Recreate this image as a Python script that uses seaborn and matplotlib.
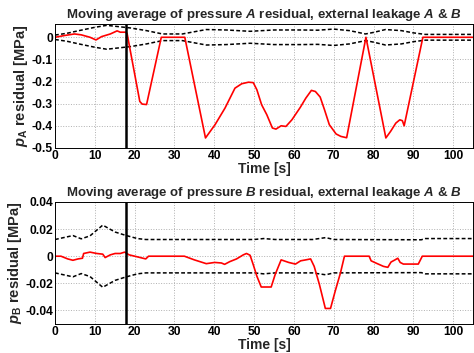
import numpy as np
import pandas as pd
import matplotlib
matplotlib.use("Agg")
import matplotlib.pyplot as plt
import seaborn as sns

# ---------------- data ----------------
# Pressure A residual (moving average)
tA = [0, 2.4, 4.9, 6.6, 8.8, 10.3, 11.7, 13.9, 15.6, 16.4, 17.7, 18.1, 21.3, 21.9, 23.0,
      26.7, 32.6, 37.8, 40.2, 42.7, 45.2, 46.9, 48.6, 49.8, 50.7, 51.9, 53.2, 54.6, 55.5,
      56.8, 58.0, 59.5, 61.6, 63.0, 64.4, 65.4, 66.6, 67.7, 68.9, 70.6, 71.8, 73.25,
      78.1, 83.1, 84.3, 85.6, 86.6, 87.25, 87.7, 92.4, 105]
rA = [0.0, 0.008, 0.015, 0.011, 0.0, -0.012, 0.003, 0.015, 0.029, 0.023, 0.023, 0.018,
      -0.29, -0.302, -0.304, 0.0, 0.0, -0.455, -0.395, -0.32, -0.23, -0.21, -0.203, -0.205,
      -0.237, -0.305, -0.35, -0.41, -0.415, -0.4, -0.403, -0.373, -0.317, -0.275, -0.24,
      -0.245, -0.27, -0.328, -0.395, -0.437, -0.448, -0.454, 0.0, -0.455, -0.425, -0.388,
      -0.373, -0.377, -0.4, 0.0, 0.0]
# Threshold A (upper / lower)
thA_t = [0, 3, 6, 10, 13, 16, 19, 23, 27, 32, 35, 38, 43, 49, 55, 62, 66, 70, 74, 78,
         80, 83, 87, 90, 93, 105]
thA_up = [0.010, 0.018, 0.030, 0.045, 0.054, 0.048, 0.042, 0.030, 0.015, 0.015, 0.025,
          0.035, 0.033, 0.027, 0.033, 0.033, 0.032, 0.037, 0.030, 0.015, 0.022, 0.035,
          0.030, 0.020, 0.013, 0.013]
thA_lo = [-0.010, -0.018, -0.030, -0.045, -0.054, -0.048, -0.042, -0.030, -0.015, -0.015,
          -0.025, -0.035, -0.033, -0.027, -0.033, -0.033, -0.032, -0.037, -0.030, -0.015,
          -0.022, -0.035, -0.030, -0.020, -0.013, -0.013]

# Pressure B residual (moving average)
tB = [0, 1.5, 3.2, 4.5, 5.8, 6.9, 7.2, 8.8, 10.5, 12.0, 12.6, 13.9, 15.1, 16.4, 17.5,
      18.6, 20.3, 22.8, 23.5, 32.5, 35.0, 38.0, 40.1, 41.8, 42.6, 43.9, 45.6, 47.3, 48.1,
      49.0, 49.8, 50.7, 51.8, 54.3, 55.3, 56.8, 58.7, 60.4, 61.7, 63.0, 64.2, 65.1, 66.4,
      67.9, 69.2, 70.4, 71.7, 72.7, 78.9, 79.4, 80.8, 82.5, 83.6, 83.9, 84.4, 85.4, 86.1,
      86.7, 87.5, 91.25, 92.25, 105]
rB = [0.0, 0.0, -0.002, -0.003, -0.002, -0.0015, 0.002, 0.003, 0.002, 0.0015, -0.001,
      0.001, 0.002, 0.002, 0.003, 0.001, -0.0002, -0.002, 0.0, 0.0, -0.0027, -0.0055,
      -0.0046, -0.005, -0.006, -0.004, -0.002, 0.001, 0.002, 0.0007, -0.0063, -0.0147,
      -0.0227, -0.0227, -0.0135, -0.0027, -0.0046, -0.0058, -0.0034, -0.0027, -0.002,
      -0.0075, -0.0207, -0.0385, -0.0385, -0.0255, -0.0123, 0.0, 0.0, -0.0034, -0.0053,
      -0.0075, -0.0082, -0.0067, -0.0043, -0.0027, -0.0015, -0.0046, -0.0058, -0.0058,
      0.0, 0.0]
# Threshold B (upper / lower)
thB_t = [0, 4.5, 6.6, 8.8, 12.0, 15.1, 17.7, 20.7, 22.8, 50, 52.4, 55.3, 64.7, 68, 70,
         92, 93, 105]
thB_up = [0.0123, 0.0152, 0.0128, 0.015, 0.0229, 0.0178, 0.0154, 0.013, 0.0123, 0.0123,
          0.013, 0.0123, 0.0123, 0.0137, 0.0123, 0.0121, 0.013, 0.013]
thB_lo = [-0.0123, -0.0152, -0.0128, -0.015, -0.0229, -0.0178, -0.0154, -0.013, -0.0123,
          -0.0123, -0.013, -0.0123, -0.0123, -0.0137, -0.0123, -0.0121, -0.013, -0.013]

fault_time = [17.8]

xticks = [0, 10, 20, 30, 40, 50, 60, 70, 80, 90, 100]
yticksA = [0, -0.1, -0.2, -0.3, -0.4, -0.5]
yticklabelsA = ["0", "-0.1", "-0.2", "-0.3", "-0.4", "-0.5"]
yticksB = [0.04, 0.02, 0, -0.02, -0.04]
yticklabelsB = ["0.04", "0.02", "0", "-0.02", "-0.04"]

titleA = r"Moving average of pressure $\mathbfit{A}$ residual, external leakage $\mathbfit{A}$ & $\mathbfit{B}$"
titleB = r"Moving average of pressure $\mathbfit{B}$ residual, external leakage $\mathbfit{A}$ & $\mathbfit{B}$"
ylabelA = r"$\mathbfit{p}_\mathbf{A}$ residual [MPa]"
ylabelB = r"$\mathbfit{p}_\mathbf{B}$ residual [MPa]"
xlabel = "Time [s]"

# ---------------- style ----------------
sns.set_style("white")
plt.rcParams["font.family"] = ["Liberation Sans", "DejaVu Sans"]
plt.rcParams["font.weight"] = "bold"
plt.rcParams["axes.unicode_minus"] = False
plt.rcParams["mathtext.fontset"] = "custom"
plt.rcParams["mathtext.rm"] = "Liberation Sans:bold"
plt.rcParams["mathtext.bf"] = "Liberation Sans:bold"
plt.rcParams["mathtext.it"] = "Liberation Sans:italic:bold"
plt.rcParams["mathtext.bfit"] = "Liberation Sans:italic:bold"

fig = plt.figure(figsize=(4.74, 3.53), dpi=100)
axA = fig.add_axes([0.116, 0.581, 0.882, 0.351])
axB = fig.add_axes([0.116, 0.082, 0.882, 0.346])


def draw(ax, t, r, tt, up, lo, ylim, yt, ytl, title, ylab):
    sns.lineplot(x=tt, y=up, ax=ax, color="black", lw=1.1, linestyle=(0, (2.5, 1.5)),
                 estimator=None, sort=False)
    sns.lineplot(x=tt, y=lo, ax=ax, color="black", lw=1.1, linestyle=(0, (2.5, 1.5)),
                 estimator=None, sort=False)
    sns.lineplot(x=t, y=r, ax=ax, color="#ff0000", lw=1.2, estimator=None, sort=False)
    for ft in fault_time:
        ax.axvline(ft, color="black", lw=1.8)
    ax.set_xlim(0, 105)
    ax.set_ylim(*ylim)
    ax.set_xticks(xticks)
    ax.set_xticklabels([str(v) for v in xticks])
    ax.set_yticks(yt)
    ax.set_yticklabels(ytl)
    ax.grid(True, linestyle=":", color="#b0b0b0", lw=0.7)
    ax.tick_params(direction="in", length=3, width=0.6, labelsize=8.7, pad=1.5,
                   colors="black")
    for lab in ax.get_xticklabels() + ax.get_yticklabels():
        lab.set_fontweight("bold")
    for s in ax.spines.values():
        s.set_color("black")
        s.set_linewidth(0.7)
    ax.set_title(title, fontsize=9.5, fontweight="bold", pad=4)
    ax.set_xlabel(xlabel, fontsize=10, fontweight="bold", labelpad=0)
    ax.set_ylabel(ylab, fontsize=10.5, fontweight="bold", labelpad=1)


draw(axA, tA, rA, thA_t, thA_up, thA_lo, (-0.5, 0.06), yticksA, yticklabelsA, titleA, ylabelA)
draw(axB, tB, rB, thB_t, thB_up, thB_lo, (-0.05, 0.04), yticksB, yticklabelsB, titleB, ylabelB)

fig.savefig("out.png", dpi=100)
